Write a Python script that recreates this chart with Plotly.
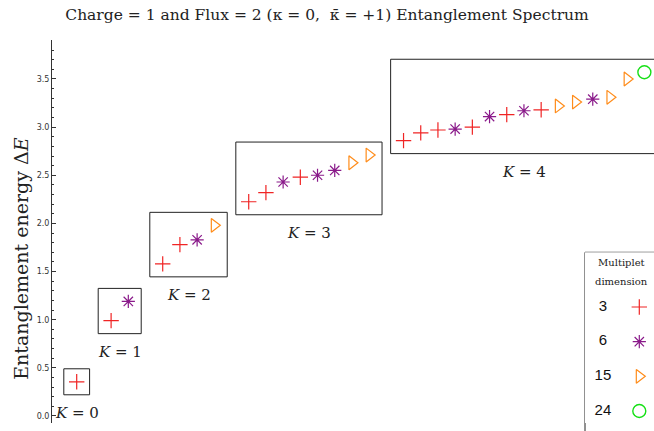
import plotly.graph_objects as go

# entanglement spectrum levels, grouped by momentum K
K_labels = [0, 1, 2, 3, 4]
E_K0 = [0.355]
E_K1 = [0.99, 1.19]
E_K2 = [1.58, 1.78, 1.83, 1.98]
E_K3 = [2.225, 2.32, 2.43, 2.48, 2.50, 2.55, 2.63, 2.71]
E_K4 = [2.86, 2.94, 2.97, 2.98, 3.00, 3.11, 3.13, 3.17, 3.18, 3.22, 3.26, 3.29, 3.31, 3.50, 3.57]

dim_K0 = [3]
dim_K1 = [3, 6]
dim_K2 = [3, 3, 6, 15]
dim_K3 = [3, 3, 6, 3, 6, 6, 15, 15]
dim_K4 = [3, 3, 3, 6, 3, 6, 3, 6, 3, 15, 15, 6, 15, 15, 24]

multiplet_dims = [3, 6, 15, 24]

energies = [E_K0, E_K1, E_K2, E_K3, E_K4]
dims = [dim_K0, dim_K1, dim_K2, dim_K3, dim_K4]

marker_style = {
    3: dict(symbol="cross-thin-open", size=11, color="#f02424", line=dict(width=1.2, color="#f02424")),
    6: dict(symbol="asterisk-open", size=11, color="#8a1a8a", line=dict(width=1.2, color="#8a1a8a")),
    15: dict(symbol="triangle-right-open", size=12, color="#ff8c1a", line=dict(width=1.2, color="#ff8c1a")),
    24: dict(symbol="circle-open", size=13, color="#16e016", line=dict(width=1.4, color="#16e016")),
}

SERIF = "DejaVu Serif"

# x index of each level: consecutive, one empty slot between K sectors
xs = []
idx = 0
for E in energies:
    xs.append(list(range(idx, idx + len(E))))
    idx += len(E) + 1

fig = go.Figure()

for d in multiplet_dims:
    px, py = [], []
    for xg, Eg, dg in zip(xs, energies, dims):
        for x, e, dd in zip(xg, Eg, dg):
            if dd == d:
                px.append(x)
                py.append(e)
    fig.add_trace(go.Scatter(x=px, y=py, mode="markers", marker=marker_style[d],
                             showlegend=False, hoverinfo="skip"))

# boxes around each K sector + labels
pad_x, pad_y = 0.75, 0.135
for K, xg, Eg in zip(K_labels, xs, energies):
    x0, x1 = xg[0] - pad_x, xg[-1] + pad_x
    y0, y1 = min(Eg) - pad_y, max(Eg) + pad_y
    fig.add_shape(type="rect", xref="x", yref="y", x0=x0, x1=x1, y0=y0, y1=y1,
                  line=dict(color="#222", width=1))
    fig.add_annotation(x=(x0 + x1) / 2, y=y0 - 0.19, xref="x", yref="y",
                       text="<i>K</i> = %d" % K, showarrow=False,
                       font=dict(family=SERIF, size=15, color="#222"))

# legend drawn on its own little axis pair
fig.add_trace(go.Scatter(x=[0.26] * len(multiplet_dims), y=list(range(len(multiplet_dims))),
                         mode="text", text=[str(d) for d in multiplet_dims],
                         textfont=dict(family="Liberation Sans", size=15, color="#111"),
                         xaxis="x2", yaxis="y2", showlegend=False, hoverinfo="skip"))
for r, d in enumerate(multiplet_dims):
    fig.add_trace(go.Scatter(x=[0.787], y=[r], mode="markers", marker=marker_style[d],
                             xaxis="x2", yaxis="y2", showlegend=False, hoverinfo="skip"))
fig.add_annotation(x=0.53, y=-1.27, xref="x2", yref="y2", text="Multiplet", showarrow=False,
                   font=dict(family=SERIF, size=10, color="#222"))
fig.add_annotation(x=0.53, y=-0.73, xref="x2", yref="y2", text="dimension", showarrow=False,
                   font=dict(family=SERIF, size=10, color="#222"))
fig.add_shape(type="rect", xref="paper", yref="paper", x0=0.8854, x1=1.05, y0=-0.05, y1=0.4457,
              line=dict(color="#222", width=1), fillcolor="white", layer="below")

fig.add_annotation(x=-0.052, y=0.428, xref="paper", yref="paper", textangle=-90,
                   xanchor="center", yanchor="middle",
                   text="Entanglement energy Δ<i>E</i>", showarrow=False,
                   font=dict(family=SERIF, size=19, color="#222"))

fig.update_layout(
    width=654, height=431,
    margin=dict(l=52, r=0, t=40, b=8),
    paper_bgcolor="white", plot_bgcolor="white",
    title=dict(text="Charge = 1 and Flux = 2 (κ = 0,  κ̄ = +1) Entanglement Spectrum",
               x=0.5, xref="container", xanchor="center",
               y=1 - 15 / 431, yref="container", yanchor="middle",
               font=dict(family=SERIF, size=15.5, color="#222")),
    xaxis=dict(visible=False, range=[-1.436, 33.56]),
    yaxis=dict(range=[-0.073, 3.905], showline=True, linecolor="#333", linewidth=1,
               ticks="inside", ticklen=4, tickcolor="#333", dtick=0.5, tickformat=".1f",
               minor=dict(ticks="inside", ticklen=2, dtick=0.1, tickcolor="#333"),
               showgrid=False, zeroline=False,
               tickfont=dict(family="DejaVu Sans", size=8, color="#333")),
    xaxis2=dict(domain=[0.8854, 1.0], range=[0, 1], visible=False, anchor="y2"),
    yaxis2=dict(domain=[0, 0.4457], range=[3.346, -1.578], visible=False, anchor="x2"),
)

fig.write_html("out.html", config={"displayModeBar": False},
               post_script="document.body.style.margin='0';")
